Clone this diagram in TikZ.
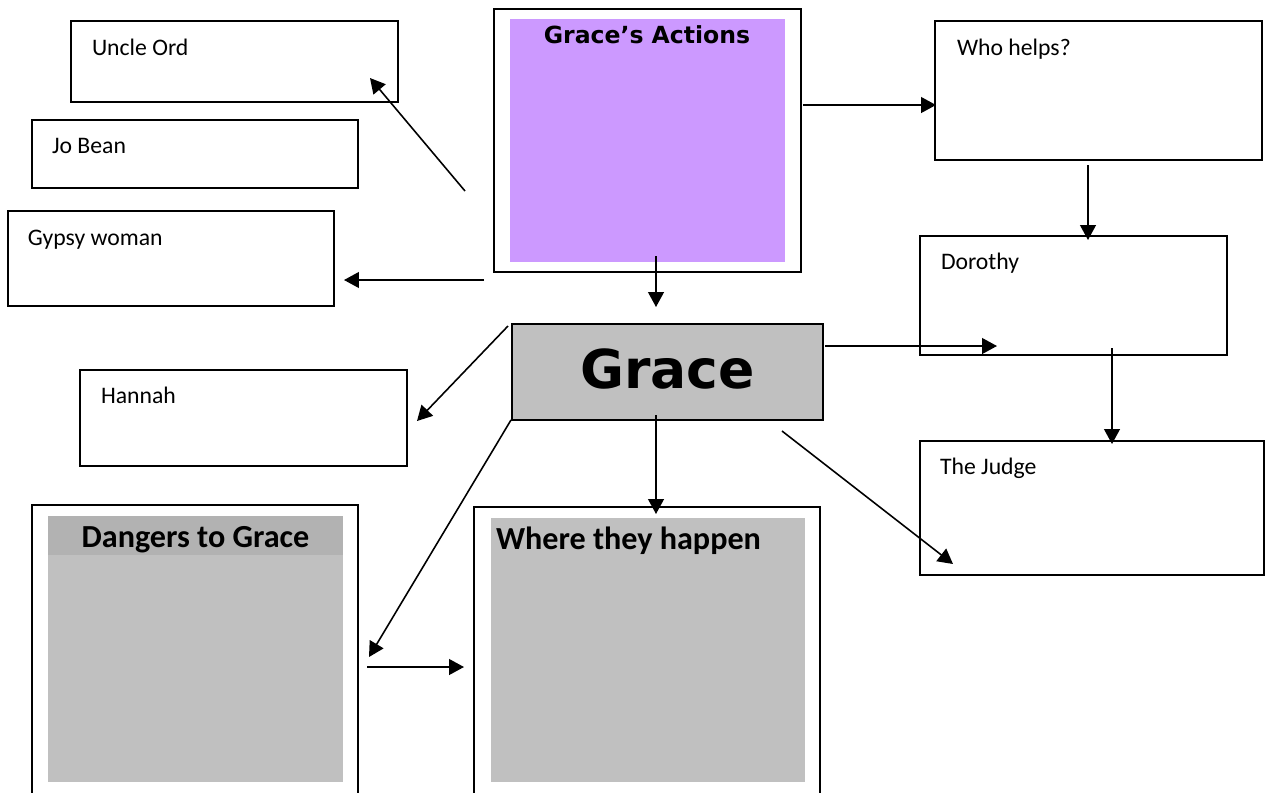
\documentclass[tikz,border=0pt]{standalone}
\usepackage{fontspec}
\setmainfont{Carlito}
\newfontfamily\headfont{DejaVu Sans}
\usetikzlibrary{arrows.meta}
\definecolor{lilac}{HTML}{CC99FF}
\definecolor{panelgray}{HTML}{C0C0C0}
\definecolor{bandgray}{HTML}{B2B2B2}
\begin{document}
\begin{tikzpicture}[x=0.02cm, y=-0.02cm, line width=0.9pt,
  every node/.style={inner sep=0pt, outer sep=0pt},
  namebox/.style 2 args={draw, line width=1.1pt, minimum width=#1*0.02cm, minimum height=#2*0.02cm},
  fillbox/.style 2 args={minimum width=#1*0.02cm, minimum height=#2*0.02cm},
  txt/.style={anchor=base west, font=\fontsize{13.5}{16}\selectfont},
  head/.style={anchor=base, font=\fontsize{18.3}{21}\selectfont\bfseries},
  arr/.style={-{Triangle[length=8.5pt,width=9pt]}}]
\clip (0,0) rectangle (1265,792);
\fill[white] (0,0) rectangle (1265,792);
% left column
\node[namebox={327}{81}] (ord) at (234.5,61.5) {};
\node[txt] (ordtxt) at ([shift={(21,34)}]ord.north west) {Uncle Ord};
\node[namebox={326}{68}] (jo) at (195,154) {};
\node[txt] (jotxt) at ([shift={(20,33)}]jo.north west) {Jo Bean};
\node[namebox={326}{95}] (gypsy) at (171,258.5) {};
\node[txt] (gypsytxt) at ([shift={(20,34)}]gypsy.north west) {Gypsy woman};
\node[namebox={327}{96}] (hannah) at (243.5,418) {};
\node[txt] (hannahtxt) at ([shift={(21,33)}]hannah.north west) {Hannah};
% middle
\node[namebox={307}{263}] (actions) at (647.5,140.5) {};
\node[fillbox={275}{243}, fill=lilac] (actionsin) at (647.5,140.5) {};
\node[anchor=base, font=\headfont\fontsize{13.4}{15}\selectfont\bfseries] (actionstxt) at (647,43) {Grace’s Actions};
\node[namebox={311}{96}, fill=panelgray] (grace) at (667.5,372) {};
\node[anchor=base, font=\headfont\fontsize{30.5}{33}\selectfont\bfseries] (gracetxt) at (667.5,388) {Grace};
% right column
\node[namebox={327}{139}] (who) at (1098.5,90.5) {};
\node[txt] (whotxt) at ([shift={(22,34)}]who.north west) {Who helps?};
\node[namebox={307}{119}] (dorothy) at (1073.5,295.5) {};
\node[txt] (dorothytxt) at ([shift={(21,33)}]dorothy.north west) {Dorothy};
\node[namebox={344}{134}] (judge) at (1092,508) {};
\node[txt] (judgetxt) at ([shift={(20,33)}]judge.north west) {The Judge};
% bottom panels
\node[namebox={326}{295}] (dangers) at (195,652.5) {};
\node[fillbox={295}{266}, fill=panelgray] (dangersin) at (195.5,649) {};
\node[fillbox={295}{39}, fill=bandgray] (dangersband) at (195.5,535.5) {};
\node[head] (dangerstxt) at (195.5,547) {Dangers to Grace};
\node[namebox={346}{293}] (where) at (647,653.5) {};
\node[fillbox={314}{264}, fill=panelgray] (wherein) at (648,650) {};
\node[head, anchor=base west] (wheretxt) at ([shift={(5,31)}]wherein.north west) {Where they happen};
% arrow ends
\coordinate (c1) at (465,191);  \coordinate (c2) at (370,78);
\coordinate (c3) at (484,280);  \coordinate (c4) at (344,280);
\coordinate (c5) at (656,256);  \coordinate (c6) at (656,307);
\coordinate (c7) at (803,105);  \coordinate (c8) at (936,105);
\coordinate (c9) at (1088,165); \coordinate (c10) at (1088,240);
\coordinate (c11) at (825,346); \coordinate (c12) at (997,346);
\coordinate (c13) at (1112,348); \coordinate (c14) at (1112,444);
\coordinate (c15) at (782,431); \coordinate (c16) at (953,564);
\coordinate (c17) at (656,415); \coordinate (c18) at (656,514);
\coordinate (c19) at (508,326); \coordinate (c20) at (417,421);
\coordinate (c21) at (511,420); \coordinate (c22) at (369,657);
\coordinate (c23) at (367,667); \coordinate (c24) at (464,667);
\foreach \s/\e in {c1/c2,c3/c4,c5/c6,c7/c8,c9/c10,c11/c12,c13/c14,c15/c16,c17/c18,c19/c20,c21/c22,c23/c24}
  \draw[arr] (\s) -- (\e);
\end{tikzpicture}
\end{document}
